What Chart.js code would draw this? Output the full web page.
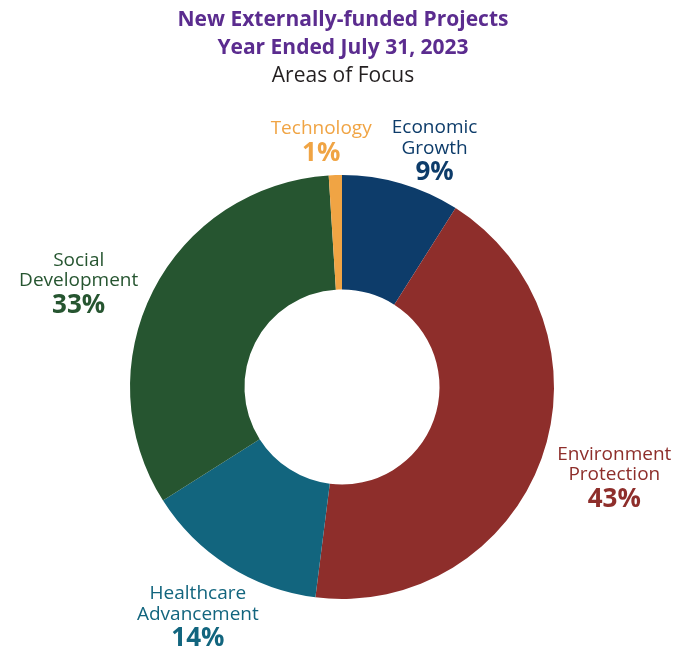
<!DOCTYPE html>
<html>
<head>
<meta charset="utf-8">
<script src="https://cdn.jsdelivr.net/npm/chart.js@4.4.0/dist/chart.umd.min.js"></script>
<style>
	html, body { margin: 0; padding: 0; background: #fff; }
	.div_chart { width: 673px; height: 648px; position: relative; }
</style>
</head>
<body>
<div class="div_chart"><canvas class="chart"></canvas></div>
<script>
const categories = [
	['Economic', 'Growth'],
	['Environment', 'Protection'],
	['Healthcare', 'Advancement'],
	['Social', 'Development'],
	['Technology'],
];
const percents = [9, 43, 14, 33, 1];
const colors = ['#0d3c6a', '#8e2e2b', '#12657e', '#265530', '#f0a444'];

const titleLines = ['New Externally-funded Projects', 'Year Ended July 31, 2023'];
const subtitle = 'Areas of Focus';

const FONT = '"Open Sans", "Noto Sans", sans-serif';

// label placement around the ring: extra distance past the outer edge, angle nudge (deg)
const labelDist = [44, 74, 57, 72, 37];
const labelTurn = [5, -2, 0, -5, -3];

const labelPlugin = {
	id: 'outsideLabels',
	afterDraw(chart) {
		const ctx = chart.ctx;
		ctx.save();
		ctx.textAlign = 'center';
		ctx.textBaseline = 'middle';

		// title block
		ctx.fillStyle = '#5b2c8f';
		ctx.font = 'bold 21px ' + FONT;
		ctx.fillText(titleLines[0], 343, 20);
		ctx.fillText(titleLines[1], 343, 48);
		ctx.fillStyle = '#231f20';
		ctx.font = '21px ' + FONT;
		ctx.fillText(subtitle, 343, 76);

		const arcs = chart.getDatasetMeta(0).data;
		arcs.forEach((arc, i) => {
			const mid = (arc.startAngle + arc.endAngle) / 2 + labelTurn[i] * Math.PI / 180;
			const r = arc.outerRadius + labelDist[i];
			const cx = arc.x + Math.cos(mid) * r;
			const cy = arc.y + Math.sin(mid) * r + 3;
			const lines = categories[i];
			const lh = 20.5;
			const total = lines.length * lh + 26;
			let y = cy - total / 2 + lh / 2;
			ctx.fillStyle = colors[i];
			ctx.font = '19px ' + FONT;
			lines.forEach((t) => {
				ctx.fillText(t, cx, y);
				y += lh;
			});
			ctx.font = 'bold 26px ' + FONT;
			ctx.fillText(percents[i] + '%', cx, y + 4);
		});
		ctx.restore();
	},
};

const ctx = document.querySelector('.chart');
new Chart(ctx, {
	type: 'doughnut',
	data: {
		labels: categories.map((c) => c.join(' ')),
		datasets: [
			{
				data: percents,
				backgroundColor: colors,
				borderWidth: 0,
			},
		],
	},
	options: {
		responsive: true,
		maintainAspectRatio: false,
		animation: false,
		cutout: '46%',
		layout: {
			padding: { left: 130, right: 119, top: 175, bottom: 49 },
		},
		plugins: {
			legend: { display: false },
			tooltip: { enabled: false },
		},
	},
	plugins: [labelPlugin],
});
</script>
</body>
</html>
